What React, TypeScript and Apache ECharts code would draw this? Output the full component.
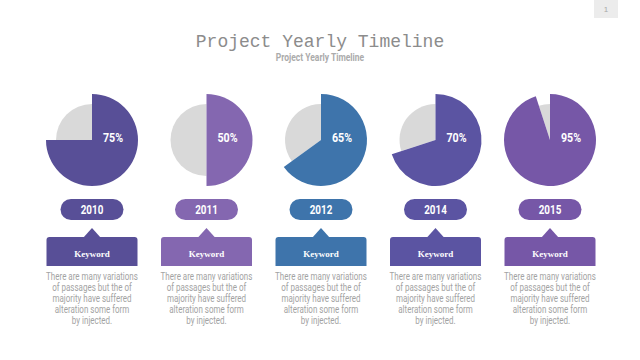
import React, { useEffect, useRef } from "react";
import * as echarts from "echarts";

const years = ["2010", "2011", "2012", "2014", "2015"];
const percents = [75, 50, 65, 70, 95];
const keywords = ["Keyword", "Keyword", "Keyword", "Keyword", "Keyword"];
const descriptions = [
  "There are many variations\nof passages but the of\nmajority have suffered\nalteration some form\nby injected.",
  "There are many variations\nof passages but the of\nmajority have suffered\nalteration some form\nby injected.",
  "There are many variations\nof passages but the of\nmajority have suffered\nalteration some form\nby injected.",
  "There are many variations\nof passages but the of\nmajority have suffered\nalteration some form\nby injected.",
  "There are many variations\nof passages but the of\nmajority have suffered\nalteration some form\nby injected.",
];
const title = "Project Yearly Timeline";
const subtitle = "Project Yearly Timeline";
const pageNumber = "1";

const COLORS = ["#584f97", "#8467b0", "#3e74ab", "#5b54a2", "#7657a7"];
const GREY = "#d9d9d9";
const SANS = "Roboto, 'Noto Sans', sans-serif";

export default function App() {
  const ref = useRef<HTMLDivElement>(null);
  useEffect(() => {
    document.body.style.margin = "0";
    const chart = echarts.init(ref.current!, null, { renderer: "svg" });
    const cx = (i: number) => 92 + i * 114.5;
    const cy = 140;
    const series: any[] = [];
    const graphic: any[] = [];

    years.forEach((y, i) => {
      const v = percents[i];
      const c = COLORS[i];
      const x = cx(i);
      series.push({
        type: "pie",
        center: [x, cy],
        radius: [0, 36],
        startAngle: 90,
        clockwise: true,
        silent: true,
        label: { show: false },
        labelLine: { show: false },
        data: [
          { value: v, itemStyle: { color: "rgba(0,0,0,0)" } },
          { value: 100 - v, itemStyle: { color: GREY } },
        ],
      });
      series.push({
        type: "pie",
        center: [x, cy],
        radius: [0, 46],
        startAngle: 90,
        clockwise: true,
        silent: true,
        label: { show: false },
        labelLine: { show: false },
        data: [
          { value: v, itemStyle: { color: c } },
          { value: 100 - v, itemStyle: { color: "rgba(0,0,0,0)" } },
        ],
      });

      // percent label
      graphic.push({
        type: "text",
        x: x + 21,
        y: cy - 2,
        scaleX: 0.82,
        z: 100,
        style: {
          text: v + "%",
          fill: "#fff",
          font: "bold 13px " + SANS,
          align: "center",
          verticalAlign: "middle",
        },
      });

      // year pill
      graphic.push({
        type: "rect",
        shape: { x: x - 31.5, y: 199, width: 63, height: 21, r: 10.5 },
        style: { fill: c },
      });
      graphic.push({
        type: "text",
        x: x,
        y: 210,
        scaleX: 0.82,
        style: {
          text: y,
          fill: "#fff",
          font: "bold 12px " + SANS,
          align: "center",
          verticalAlign: "middle",
        },
      });
      // callout
      graphic.push({
        type: "polygon",
        shape: { points: [[x - 9, 238], [x, 228], [x + 9, 238]] },
        style: { fill: c },
      });
      graphic.push({
        type: "rect",
        shape: { x: x - 45.5, y: 237, width: 91, height: 29, r: [3, 3, 0, 0] },
        style: { fill: c },
      });
      graphic.push({
        type: "text",
        x: x,
        y: 254,
        style: {
          text: keywords[i],
          fill: "#fff",
          font: "bold 9px 'Liberation Serif', serif",
          align: "center",
          verticalAlign: "middle",
        },
      });
      graphic.push({
        type: "text",
        x: x,
        y: 271.5,
        scaleX: 0.8,
        style: {
          text: descriptions[i],
          fill: "#a3a3a3",
          font: "10px " + SANS,
          lineHeight: 11,
          align: "center",
          verticalAlign: "top",
        },
      });
    });

    graphic.push({
      type: "text",
      x: 320,
      y: 57,
      scaleX: 0.85,
      style: {
        text: subtitle,
        fill: "#ababab",
        font: "bold 10px " + SANS,
        align: "center",
        verticalAlign: "middle",
      },
    });

    graphic.push({
      type: "rect",
      shape: { x: 594, y: 0, width: 24, height: 18 },
      style: { fill: "#ececec" },
    });
    graphic.push({
      type: "text",
      x: 606,
      y: 9,
      style: {
        text: pageNumber,
        fill: "#a8a8a8",
        font: "8px sans-serif",
        align: "center",
        verticalAlign: "middle",
      },
    });

    chart.setOption({
      animation: false,
      backgroundColor: "#ffffff",
      title: {
        text: title,
        left: "center",
        top: 28,
        textStyle: {
          fontFamily: "'Liberation Mono', monospace",
          fontWeight: "normal",
          fontSize: 18,
          color: "#8c8c8c",
        },
      },
      series,
      graphic,
    });
    return () => chart.dispose();
  }, []);
  return <div ref={ref} style={{ width: 640, height: 360 }} />;
}
